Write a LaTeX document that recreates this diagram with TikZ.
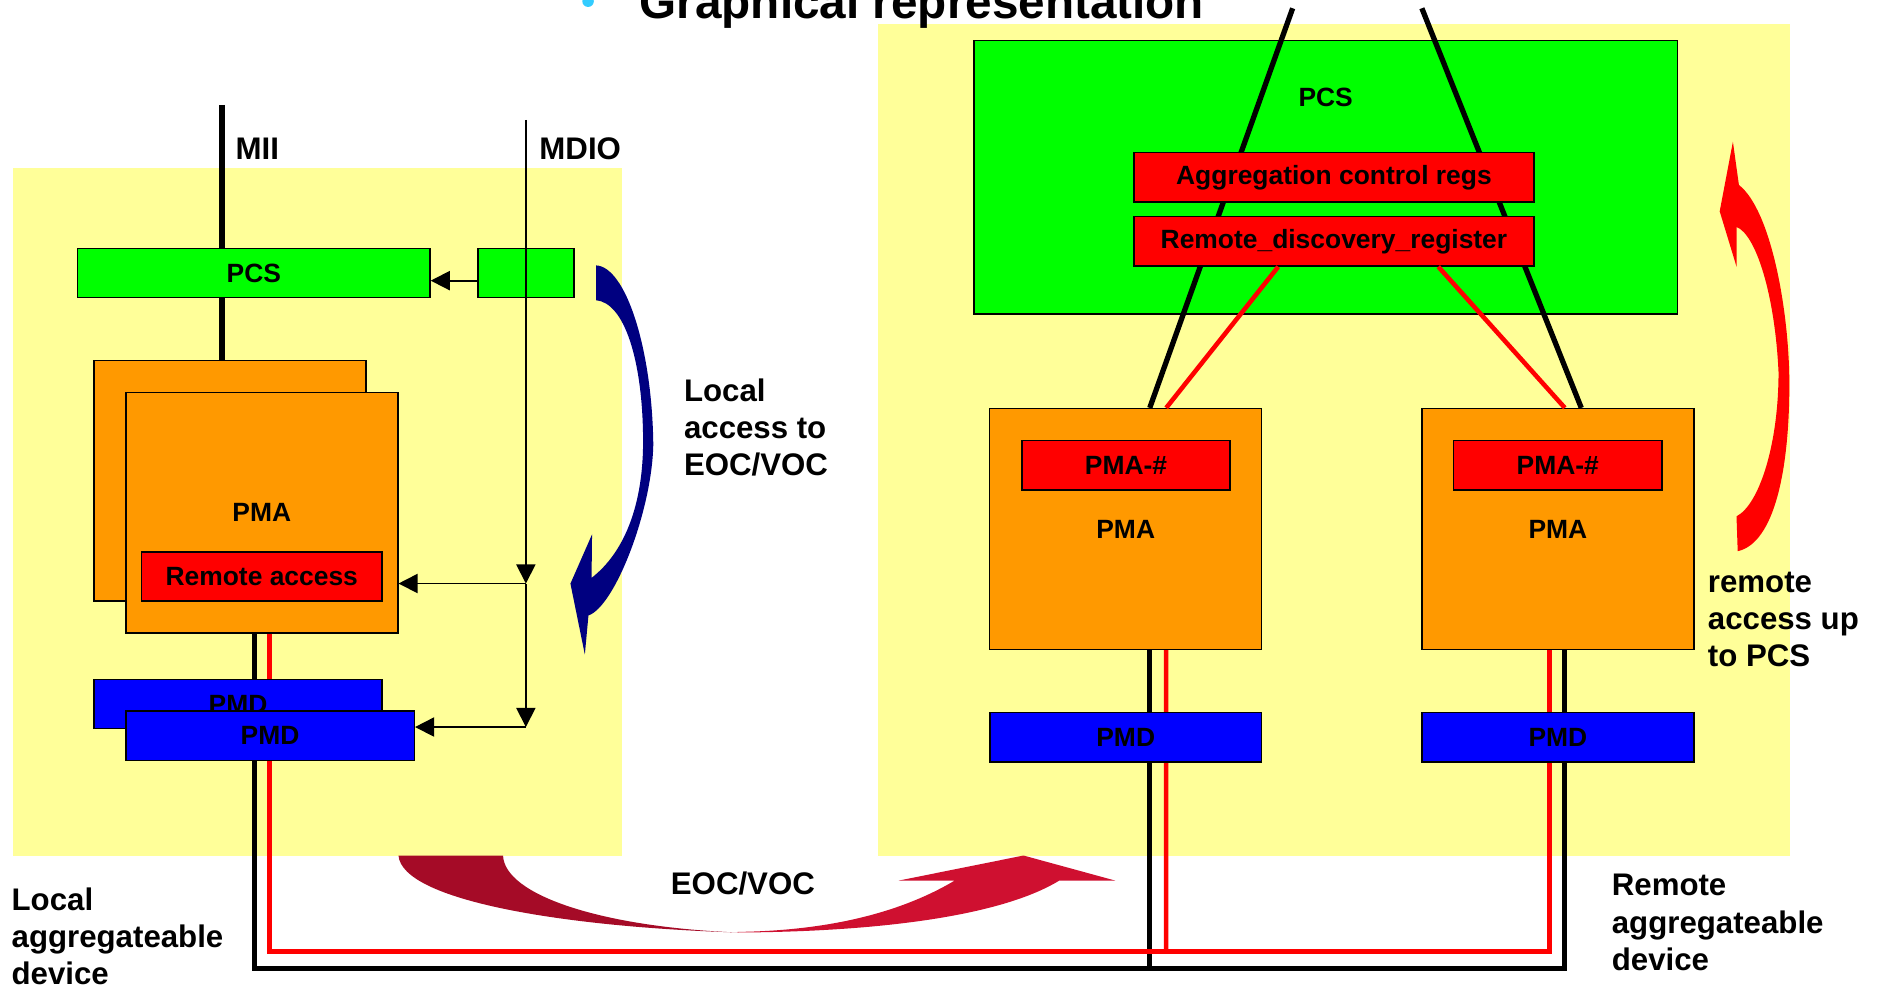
\documentclass[tikz,border=0pt]{standalone}
\usepackage{fontspec}
\setmainfont{Liberation Sans}
\usepackage{xcolor}
\usetikzlibrary{arrows.meta}

\definecolor{padYellow}{HTML}{FFFF99}
\definecolor{pcsGreen}{HTML}{00FF00}
\definecolor{pmaOrange}{HTML}{FF9900}
\definecolor{regRed}{HTML}{FF0000}
\definecolor{pmdBlue}{HTML}{0000FF}
\definecolor{loopNavy}{HTML}{000080}
\definecolor{eocDark}{HTML}{A50B27}
\definecolor{eocLight}{HTML}{CF1030}
\definecolor{dotBlue}{HTML}{33CCFF}

\begin{document}
\begin{tikzpicture}[x=1pt, y=-1pt,
    blk/.style={draw=black, line width=1.2pt, inner sep=0pt, font=\fontsize{22}{26}\selectfont\bfseries},
    pcsbox/.style={blk, fill=pcsGreen, minimum height=41pt},
    pmabox/.style={blk, fill=pmaOrange, minimum width=226.5pt, minimum height=200.5pt},
    regbox/.style={blk, fill=regRed, minimum height=41pt},
    pmdbox/.style={blk, fill=pmdBlue, minimum height=41pt},
    lbl/.style={inner sep=0pt, anchor=base west, align=left, font=\fontsize{26}{31}\selectfont\bfseries},
    wire/.style={line width=4.4pt},
    redwire/.style={regRed, line width=3.8pt},
    ctl/.style={line width=1.5pt, -{Triangle[length=16pt, width=16pt]}}
]
    \useasboundingbox (0,0) rectangle (1568,824);
    \clip (0,0) rectangle (1568,824);
    \fill[white] (0,0) rectangle (1568,824);

    % Device areas
    \fill[padYellow] (10.5,140) rectangle (518,712.4);
    \fill[padYellow] (731,20) rectangle (1490.5,712.4);

    % Local PMA stack
    \node[pmabox] (pmaBack) at (191.5,400.3) {};
    \node[pmabox] (pmaFront) at (218,427) {PMA};
    \node[regbox, minimum width=200.4pt] (remAcc) at (218,480) {Remote access};

    % Remote PCS and PMAs
    \node[blk, fill=pcsGreen, minimum width=586pt, minimum height=227.6pt] (pcsR) at (1103.9,147.7) {};
    \node[inner sep=0pt, font=\fontsize{22}{26}\selectfont\bfseries] (pcsRLbl) at (1103.9,81.3) {PCS};
    \node[pmabox] (pmaA) at (937.4,440.5) {PMA};
    \node[regbox, minimum width=173.2pt] (pmaIdA) at (937.7,387.5) {PMA-\#};
    \node[pmabox] (pmaB) at (1297.3,440.5) {PMA};
    \node[regbox, minimum width=173.8pt] (pmaIdB) at (1297.2,387.5) {PMA-\#};

    % MII
    \coordinate (miiTop) at (184.8,87.4);
    \draw[wire, line width=5pt] (miiTop) -- (miiTop |- pmaBack.north);

    % Line pairs to the remote side
    \coordinate (busBlk) at (957.4,806.5);
    \coordinate (busRed) at (971.1,792.5);
    \draw[wire] ([xshift=-6.3pt]pmaFront.south) |- (busBlk) -| ([xshift=5.75pt]pmaB.south);
    \draw[wire] ([xshift=20pt]pmaA.south) -- (busBlk);
    \draw[redwire] ([xshift=6.6pt]pmaFront.south) |- (busRed) -| ([xshift=-6.85pt]pmaB.south);
    \draw[redwire] ([xshift=33.7pt]pmaA.south) -- (busRed);

    % MII links through the remote PCS
    \coordinate (upL) at (1076.4,6.9);
    \coordinate (upR) at (1184,6.9);
    \draw[wire] (upL) -- ([xshift=20pt]pmaA.north);
    \draw[wire] (upR) -- ([xshift=19.45pt]pmaB.north);

    \node[regbox, minimum width=333pt] (aggRegs) at (1110.8,147.7) {Aggregation control regs};
    \node[regbox, minimum width=333pt] (discReg) at (1110.8,201) {Remote\_discovery\_register};
    \draw[redwire] ([xshift=-46.4pt]discReg.south) -- ([xshift=33.7pt]pmaA.north);
    \draw[redwire] ([xshift=86.9pt]discReg.south) -- ([xshift=5.75pt]pmaB.north);

    % PMDs
    \node[pmdbox, minimum width=240.1pt] (pmdBack) at (198.2,586.2) {PMD};
    \node[pmdbox, minimum width=240.2pt] (pmdFront) at (224.9,612.6) {PMD};
    \node[pmdbox, minimum width=226.4pt] (pmdA) at (937.4,614) {PMD};
    \node[pmdbox, minimum width=226.5pt] (pmdB) at (1297.3,614) {PMD};

    % Local PCS and MDIO
    \node[pcsbox, minimum width=293.3pt] (pcsL) at (211.4,227.4) {PCS};
    \node[pcsbox, minimum width=80.3pt] (mdioBox) at (438,227.4) {};
    \coordinate (mdioTop) at (437.9,99.9);
    \coordinate (tapA) at (437.9,485.9);
    \coordinate (tapB) at (437.9,605.4);
    \draw[ctl] (mdioTop) -- (tapA);
    \draw[ctl] (tapA) -- (tapB);
    \draw[ctl] (tapA) -- (tapA -| pmaFront.east);
    \draw[ctl] (tapB) -- (tapB -| pmdFront.east);
    \draw[ctl] ([yshift=-6.3pt]mdioBox.west) -- ([yshift=-6.3pt]pcsL.east);

    % Local access arrow
    \fill[loopNavy] (496.3,221) .. controls (521,222) and (543,290) .. (544,370)
        .. controls (543,425) and (512,505) .. (490,512.5)
        -- (487,545) -- (475,486) -- (493,445) -- (492.6,481.2)
        .. controls (520,460) and (536,420) .. (535.5,365)
        .. controls (535,300) and (520,252) .. (496.3,250) -- cycle;

    % Remote access arrow
    \fill[regRed] (1443,118) -- (1448,154) .. controls (1475,175) and (1490,260) .. (1490,320)
        .. controls (1490,390) and (1478,452) .. (1447,459) -- (1446,430)
        .. controls (1465,420) and (1481,370) .. (1481,310)
        .. controls (1478,245) and (1462,195) .. (1446,189)
        -- (1446,222) -- (1432,176) -- cycle;

    % EOC/VOC arrow
    \fill[eocDark] (331.8,712.4) .. controls (335,750) and (470,772) .. (614.3,776.5)
        .. controls (500,772) and (420,745) .. (418.9,712.4) -- cycle;
    \fill[eocLight] (614.3,776.5) .. controls (720,776) and (830,765) .. (882,733.3)
        -- (928.8,733.3) -- (852.3,712.4) -- (748.2,733.3) -- (794.9,733.3)
        .. controls (750,760) and (690,775) .. (614.3,776) -- cycle;

    % Labels (base = last line)
    \node[lbl] (miiLbl) at (196,133) {MII};
    \node[lbl] (mdioLbl) at (449,133) {MDIO};
    \node[lbl] (locAcc) at (569.4,396) {Local\\access to\\EOC/VOC};
    \node[lbl] (remAccLbl) at (1422,555) {remote\\access up\\to PCS};
    \node[lbl] (remDev) at (1342,808) {Remote\\aggregateable\\device};
    \node[lbl] (locDev) at (9.5,820) {Local\\aggregateable\\device};
    \node[lbl, anchor=base] (eocLbl) at (618.6,745) {EOC/VOC};

    % Title
    \fill[dotBlue] (489.7,1) circle (4.8);
    \node[inner sep=0pt, anchor=base west, font=\fontsize{39.7}{48}\selectfont\bfseries] (title) at (532.5,15.3) {Graphical representation};
\end{tikzpicture}
\end{document}
